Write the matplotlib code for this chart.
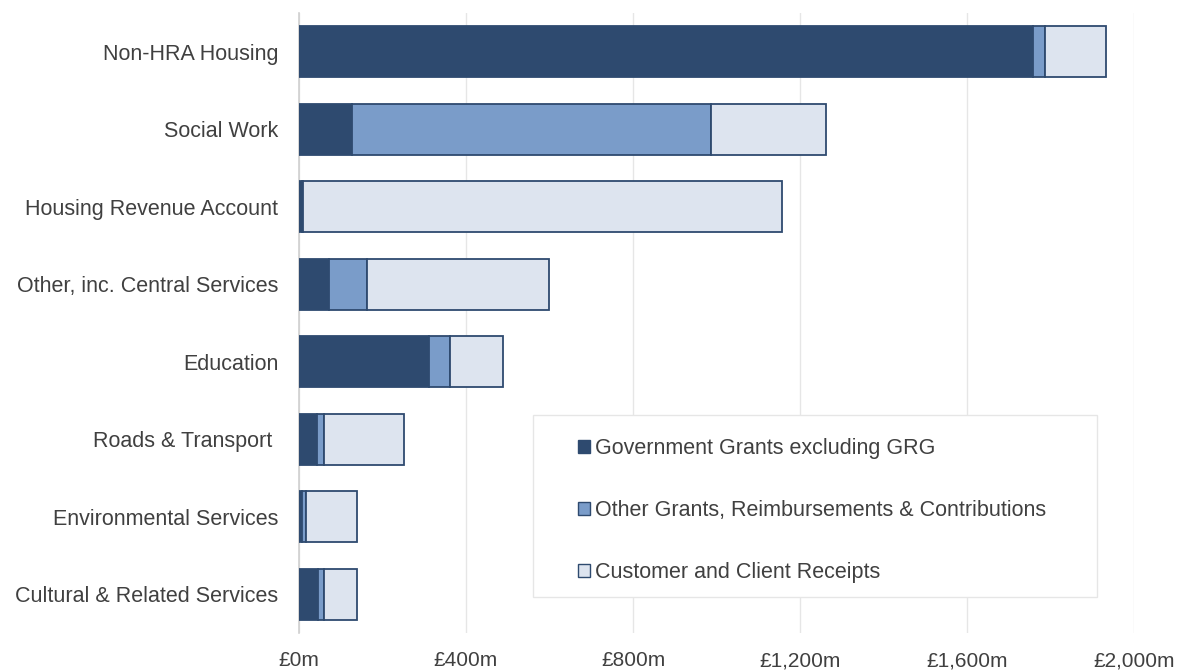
import numpy as np
import matplotlib.pyplot as plt
from matplotlib.patches import Patch, Rectangle

plt.rcParams['font.family'] = ['Liberation Sans', 'DejaVu Sans']

# Income by service (£m)
services = ["Non-HRA Housing", "Social Work", "Housing Revenue Account",
            "Other, inc. Central Services", "Education", "Roads & Transport ",
            "Environmental Services", "Cultural & Related Services"]
gov_grants = [1758, 127, 8, 72, 311, 42, 7, 46]
other_grants = [30, 860, 1, 91, 51, 18, 10, 15]
customer_receipts = [144, 275, 1148, 436, 127, 192, 122, 78]

series_names = ["Government Grants excluding GRG",
                "Other Grants, Reimbursements & Contributions",
                "Customer and Client Receipts"]
colours = ["#2E4A6F", "#7A9CC9", "#DDE4EF"]
edge = "#2E4A6F"
text_col = "#404040"

fig = plt.figure(figsize=(11.84, 6.71), dpi=100)
ax = fig.add_axes([299 / 1184, 1 - 633 / 671, 835 / 1184, 620 / 671])

y = np.arange(len(services))
left = np.zeros(len(services))
for vals, col in zip([gov_grants, other_grants, customer_receipts], colours):
    ax.barh(y, vals, left=left, height=0.66, color=col, edgecolor=edge, linewidth=1.3, zorder=3)
    left += np.array(vals)

ax.set_ylim(len(services) - 0.5, -0.5)
ax.set_xlim(0, 2000)
ax.set_xticks(np.arange(0, 2001, 400))
ax.set_xticklabels([f"£{v:,}m" for v in range(0, 2001, 400)])
ax.set_yticks(y)
ax.set_yticklabels(services)

ax.grid(axis='x', color='#E6E6E6', linewidth=1, zorder=0)
for s in ['top', 'right', 'bottom']:
    ax.spines[s].set_visible(False)
ax.spines['left'].set_color('#D0D0D0')
ax.spines['left'].set_linewidth(1.2)
ax.tick_params(axis='both', length=0, colors=text_col)
ax.tick_params(axis='y', labelsize=15.5, pad=15)
ax.tick_params(axis='x', labelsize=15, pad=13)

# legend box drawn separately so the entries can sit inset
box = Rectangle((0.2802, 0.0581), 0.6754, 0.2935, transform=ax.transAxes,
                facecolor='white', edgecolor='#E6E6E6', linewidth=1.0, zorder=4)
ax.add_patch(box)

handles = [Patch(facecolor=c, edgecolor=edge, linewidth=1.0) for c in colours]
leg = ax.legend(handles, series_names, loc='upper left',
                bbox_to_anchor=(0.334, 0.315), frameon=False,
                fontsize=15.5, handlelength=0.55, handleheight=0.55, handletextpad=0.25,
                labelspacing=1.92, borderpad=0, borderaxespad=0)
for t in leg.get_texts():
    t.set_color(text_col)
leg.set_zorder(5)

fig.savefig("out.png", dpi=100)
